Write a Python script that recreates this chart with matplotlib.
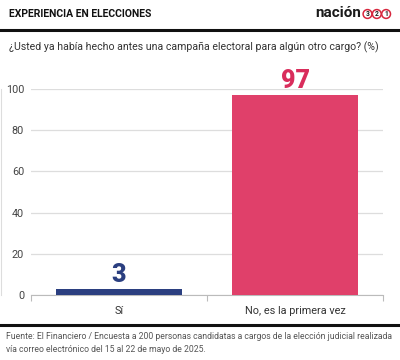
import matplotlib.pyplot as plt
from matplotlib.lines import Line2D

plt.rcParams["font.family"] = ["Roboto", "DejaVu Sans"]

# datos
categorias = ["Sí", "No, es la primera vez"]
valores = [3, 97]
colores = ["#2B3F80", "#E0406A"]
colores_etiqueta = ["#2B3F80", "#D92D5C"]
yticks = [0, 20, 40, 60, 80, 100]

titulo = "EXPERIENCIA EN ELECCIONES"
pregunta = "¿Usted ya había hecho antes una campaña electoral para algún otro cargo? (%)"
fuente = ("Fuente: El Financiero / Encuesta a 200 personas candidatas a cargos de la elección judicial realizada\n"
          "vía correo electrónico del 15 al 22 de mayo de 2025.")

W, H = 400, 360
fig = plt.figure(figsize=(W / 100, H / 100), dpi=100)
fig.patch.set_facecolor("white")

def fx(px):
    return px / W

def fy(py):
    return 1 - py / H

# cabecera
fig.text(fx(9), fy(14), titulo, fontsize=7.5, fontweight="bold", color="#111111", va="center", ha="left")
fig.text(fx(361), fy(13), "nación", fontsize=11, fontweight="bold", color="#1a1a1a", va="center", ha="right")
for i, d in enumerate(["3", "2", "1"]):
    fig.text(fx(367.5 + i * 9.3), fy(14), d, fontsize=4.8, fontweight="bold", color="#1a1a1a",
             va="center", ha="center",
             bbox=dict(boxstyle="circle,pad=0.06", fc="white", ec="#D7263D", lw=1.1))
fig.add_artist(Line2D([0, 1], [fy(30), fy(30)], color="#111111", lw=2.2, transform=fig.transFigure))
fig.text(fx(9), fy(47), pregunta, fontsize=7.6, color="#333333", va="center", ha="left")

# pie
fig.add_artist(Line2D([0, 1], [fy(325), fy(325)], color="#111111", lw=2.2, transform=fig.transFigure))
fig.text(fx(6), fy(343), fuente, fontsize=6.25, color="#555555", va="center", ha="left", linespacing=1.5)

# barras
ax = fig.add_axes([fx(31), fy(295), fx(383) - fx(31), fy(89) - fy(295)])
x = list(range(len(categorias)))
ax.bar(x, valores, width=0.716, color=colores, zorder=3)
for xi, v, c in zip(x, valores, colores_etiqueta):
    ax.text(xi, v + 1.0, str(v), ha="center", va="bottom", fontsize=18, fontweight="black",
            color=c, clip_on=False, zorder=4)

ax.set_xlim(-0.5, 1.5)
ax.set_ylim(0, 100)
ax.set_yticks(yticks)
ax.set_yticklabels([str(t) for t in yticks], fontsize=7.8, color="#444444")
ax.yaxis.grid(True, color="#DDDDDD", lw=0.9, zorder=0)
ax.tick_params(axis="y", length=0, pad=5)

ax.set_xticks([-0.5, 0.5, 1.5])
ax.set_xticklabels([])
ax.set_xticks(x, minor=True)
ax.set_xticklabels(categorias, minor=True, fontsize=7.8, color="#333333")
ax.tick_params(axis="x", which="major", length=4, color="#BBBBBB", width=0.8)
ax.tick_params(axis="x", which="minor", length=0, pad=8)

for s in ["top", "right", "left"]:
    ax.spines[s].set_visible(False)
ax.spines["bottom"].set_color("#BBBBBB")
ax.spines["bottom"].set_linewidth(0.8)

fig.add_artist(Line2D([fx(1), fx(1)], [fy(295), fy(89)], color="#DDDDDD", lw=0.8, transform=fig.transFigure))

fig.savefig("out.png", dpi=100)
